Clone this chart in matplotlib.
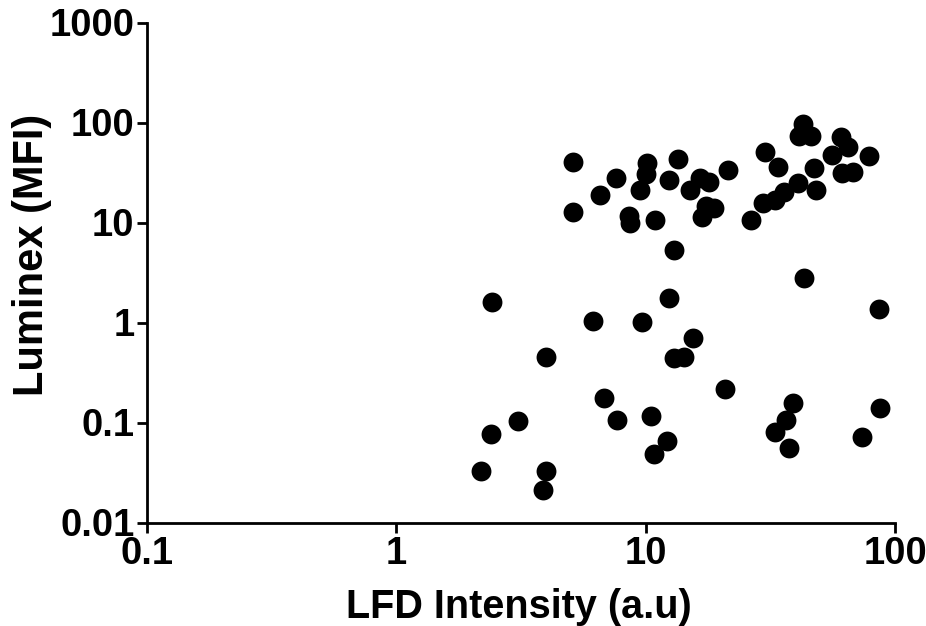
import matplotlib
matplotlib.use("Agg")
import matplotlib.pyplot as plt
from matplotlib.ticker import FixedLocator, FixedFormatter, NullLocator

plt.rcParams['font.family'] = ['Liberation Sans', 'DejaVu Sans']
plt.rcParams['font.weight'] = 'bold'

# LFD band intensity (a.u) per sample
lfd_intensity = [
    5.12, 5.12, 6.56, 7.58, 8.57, 8.63, 9.50, 10.0, 10.14, 10.92,
    12.41, 13.02, 13.44, 15.02, 16.55, 17.96, 17.42, 18.81, 16.89, 21.35,
    26.41, 29.42, 30.06, 32.97, 33.81, 35.83, 40.78, 41.35, 42.91, 45.99,
    47.15, 48.16, 55.85, 60.5, 61.25, 64.57, 68.1, 78.4,
    2.42, 3.97, 6.14, 9.70, 12.41, 12.99, 14.30, 15.44, 6.78, 7.70,
    10.54, 3.07, 2.40, 12.22, 10.80, 2.19, 4.00, 3.88, 43.2, 86.5,
    20.77, 38.94, 36.5, 33.1, 37.6, 87.3, 73.7,
]

# Luminex median fluorescence intensity for the same samples
luminex_mfi = [
    40.6, 12.7, 18.8, 28.1, 11.6, 9.82, 21.1, 30.2, 39.1, 10.7,
    26.6, 5.27, 42.9, 21.1, 27.7, 25.6, 14.6, 13.9, 11.4, 33.5,
    10.5, 15.5, 50.4, 16.6, 36.1, 20.0, 25.1, 74.1, 96.6, 74.1,
    35.1, 21.1, 47.6, 71.6, 31.5, 56.9, 31.8, 46.2,
    1.59, 0.455, 1.04, 1.02, 1.75, 0.439, 0.455, 0.695, 0.175, 0.106,
    0.116, 0.1035, 0.0773, 0.0646, 0.0484, 0.033, 0.033, 0.0211, 2.79, 1.36,
    0.215, 0.156, 0.107, 0.0809, 0.055, 0.139, 0.0711,
]

x_ticks = [0.1, 1, 10, 100]
x_tick_labels = ["0.1", "1", "10", "100"]
y_ticks = [0.01, 0.1, 1, 10, 100, 1000]
y_tick_labels = ["0.01", "0.1", "1", "10", "100", "1000"]

fig = plt.figure(figsize=(9.26, 6.26), dpi=100)
ax = fig.add_axes([147 / 926, 1 - 522.5 / 626, (895 - 147) / 926, 500 / 626])

ax.plot(lfd_intensity, luminex_mfi, linestyle='none', marker='o',
        markersize=14.3, color='black', markeredgewidth=0, clip_on=False)

ax.set_xscale('log')
ax.set_yscale('log')
ax.set_xlim(0.1, 100)
ax.set_ylim(0.01, 1000)

ax.xaxis.set_major_locator(FixedLocator(x_ticks))
ax.xaxis.set_major_formatter(FixedFormatter(x_tick_labels))
ax.yaxis.set_major_locator(FixedLocator(y_ticks))
ax.yaxis.set_major_formatter(FixedFormatter(y_tick_labels))
ax.xaxis.set_minor_locator(NullLocator())
ax.yaxis.set_minor_locator(NullLocator())

for side in ('top', 'right'):
    ax.spines[side].set_visible(False)
for side in ('left', 'bottom'):
    ax.spines[side].set_linewidth(2.0)
    ax.spines[side].set_color('black')

ax.tick_params(axis='both', which='major', direction='out', length=7,
               width=2.0, labelsize=27.5, colors='black')
ax.tick_params(axis='y', pad=2)
ax.tick_params(axis='x', pad=3)
for lbl in ax.get_xticklabels() + ax.get_yticklabels():
    lbl.set_fontweight('bold')

ax.set_xlabel("LFD Intensity (a.u)", fontsize=28.5, fontweight='bold')
ax.set_ylabel("Luminex (MFI)", fontsize=30, fontweight='bold')
ax.xaxis.set_label_coords(0.497, -0.131)
ax.yaxis.set_label_coords(-0.127, 0.535)

fig.savefig("out.png", dpi=100, facecolor='white')
